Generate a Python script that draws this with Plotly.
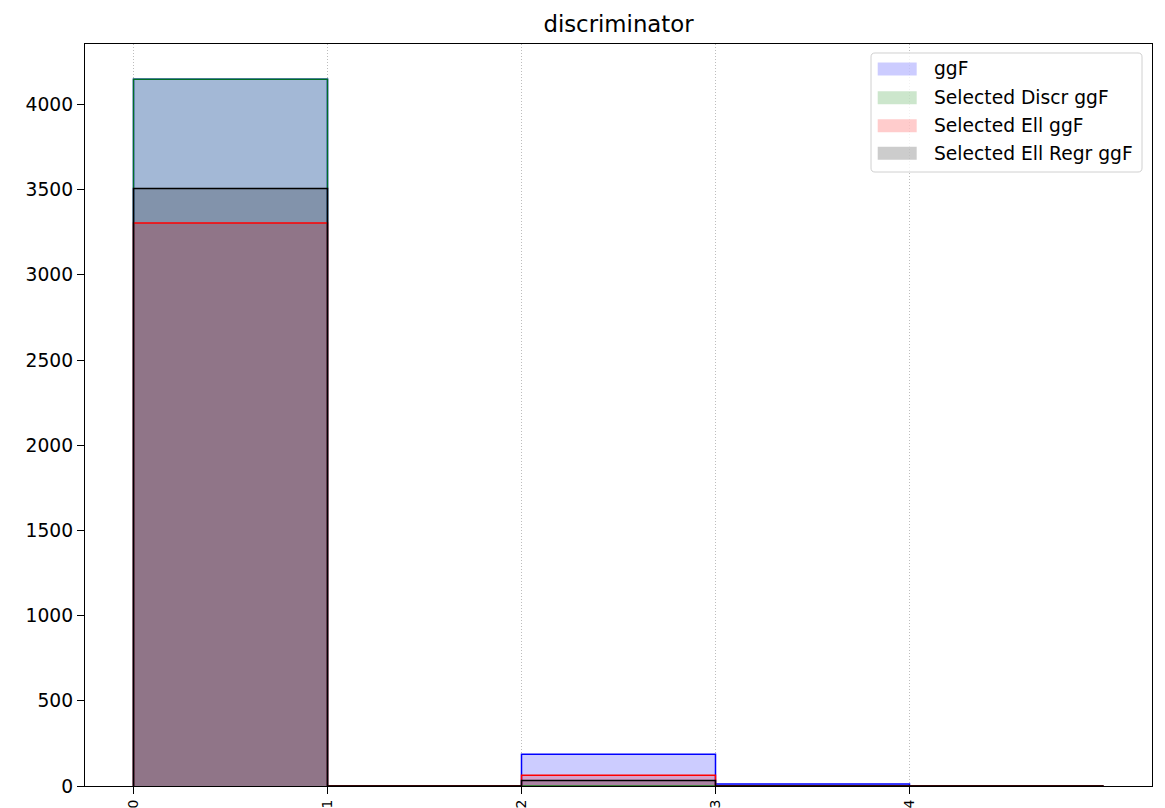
import numpy as np
import plotly.graph_objects as go

# Histogram of the "discriminator" output, bins of width 1 from 0 to 5
bin_edges = [0, 1, 2, 3, 4, 5]
series_names = ["ggF", "Selected Discr ggF", "Selected Ell ggF", "Selected Ell Regr ggF"]
counts_ggf = [4148, 0, 186, 12, 0]
counts_sel_discr = [4148, 0, 0, 0, 0]
counts_sel_ell = [3305, 0, 63, 0, 0]
counts_sel_ell_regr = [3507, 0, 33, 0, 0]
y_ticks = [0, 500, 1000, 1500, 2000, 2500, 3000, 3500, 4000]
x_ticks = [0, 1, 2, 3, 4]

all_counts = [counts_ggf, counts_sel_discr, counts_sel_ell, counts_sel_ell_regr]
base_rgb = [(0, 0, 255), (0, 128, 0), (255, 0, 0), (0, 0, 0)]
edge_alpha = [1.0, 0.85, 1.0, 1.0]
fill_order = [1, 0, 2, 3]

W, H = 1165, 808
L, R, T, B = 85, 13, 44, 22
plot_w, plot_h = W - L - R, H - T - B

font_family = "DejaVu Sans"


def step_xy(edges, counts):
    # closed step outline: up the first edge, across each bin, down the last edge
    xs = [edges[0]] + list(edges) + [edges[-1]]
    ys = [0] + list(counts) + [counts[-1], 0]
    return xs, ys


fig = go.Figure()

# filled areas (alpha 0.2), drawn first
for i in fill_order:
    xs, ys = step_xy(bin_edges, all_counts[i])
    fig.add_trace(go.Scatter(
        x=xs, y=ys, mode="lines", line=dict(width=0, shape="hv"),
        fill="tozeroy", fillcolor="rgba(%d,%d,%d,0.2)" % base_rgb[i],
        name=series_names[i], showlegend=False, hoverinfo="skip"))

# step outlines on top
for name, counts, rgb, a in zip(series_names, all_counts, base_rgb, edge_alpha):
    xs, ys = step_xy(bin_edges, counts)
    fig.add_trace(go.Scatter(
        x=xs, y=ys, mode="lines",
        line=dict(width=1.5, shape="hv", color="rgba(%d,%d,%d,%.2f)" % (rgb + (a,))),
        showlegend=False, hoverinfo="skip"))

y_max = max(max(c) for c in all_counts) * 1.05

fig.update_xaxes(
    range=[-0.25, 5.25], tickvals=x_ticks, ticktext=[str(v) for v in x_ticks],
    tickangle=-90, ticks="outside", ticklen=7, tickwidth=1, tickcolor="#000",
    tickfont=dict(family=font_family, size=14, color="#000"),
    showgrid=True, gridcolor="#bdbdbd", griddash="1px,2px", gridwidth=1,
    showline=True, linecolor="#000", linewidth=1.2, mirror=True,
    zeroline=False, automargin=False)
fig.update_yaxes(
    range=[0, y_max], tickvals=y_ticks, ticks="outside", ticklen=7, tickwidth=1,
    tickcolor="#000", tickfont=dict(family=font_family, size=18.7, color="#000"),
    showgrid=False, showline=True, linecolor="#000", linewidth=1.2, mirror=True,
    zeroline=False, automargin=False)


def px_x(p):
    return (p - L) / plot_w


def px_y(p):
    return (H - B - p) / plot_h


# legend box with rounded corners
bx0, bx1, by0, by1, r = 871, 1142, 53, 172, 4
path = (
    "M %f,%f L %f,%f Q %f,%f %f,%f L %f,%f Q %f,%f %f,%f L %f,%f Q %f,%f %f,%f L %f,%f Q %f,%f %f,%f Z" % (
        px_x(bx0 + r), px_y(by0), px_x(bx1 - r), px_y(by0),
        px_x(bx1), px_y(by0), px_x(bx1), px_y(by0 + r),
        px_x(bx1), px_y(by1 - r),
        px_x(bx1), px_y(by1), px_x(bx1 - r), px_y(by1),
        px_x(bx0 + r), px_y(by1),
        px_x(bx0), px_y(by1), px_x(bx0), px_y(by1 - r),
        px_x(bx0), px_y(by0 + r),
        px_x(bx0), px_y(by0), px_x(bx0 + r), px_y(by0)))
shapes = [dict(type="path", xref="paper", yref="paper", path=path,
               fillcolor="rgba(255,255,255,0.8)", line=dict(color="#d0d0d0", width=1))]
annotations = []
row_y = [69, 97.7, 125.7, 153.3]
for name, rgb, yc in zip(series_names, base_rgb, row_y):
    shapes.append(dict(type="rect", xref="paper", yref="paper",
                       x0=px_x(877.7), x1=px_x(916.7), y0=px_y(yc + 6.5), y1=px_y(yc - 6.5),
                       fillcolor="rgba(%d,%d,%d,0.2)" % rgb, line=dict(width=0)))
    annotations.append(dict(xref="paper", yref="paper", x=px_x(931.7), y=px_y(yc),
                            xanchor="left", yanchor="middle", showarrow=False, text=name,
                            font=dict(family=font_family, size=18.7, color="#000")))

fig.update_layout(
    width=W, height=H, margin=dict(l=L, r=R, t=T, b=B, pad=0),
    paper_bgcolor="white", plot_bgcolor="white",
    title=dict(text="discriminator", x=0.5, xref="paper", xanchor="center",
               y=1 - 24 / H, yref="container", yanchor="middle",
               font=dict(family=font_family, size=22.8, color="#000")),
    showlegend=False, shapes=shapes, annotations=annotations)

fig.write_html("out.html")
